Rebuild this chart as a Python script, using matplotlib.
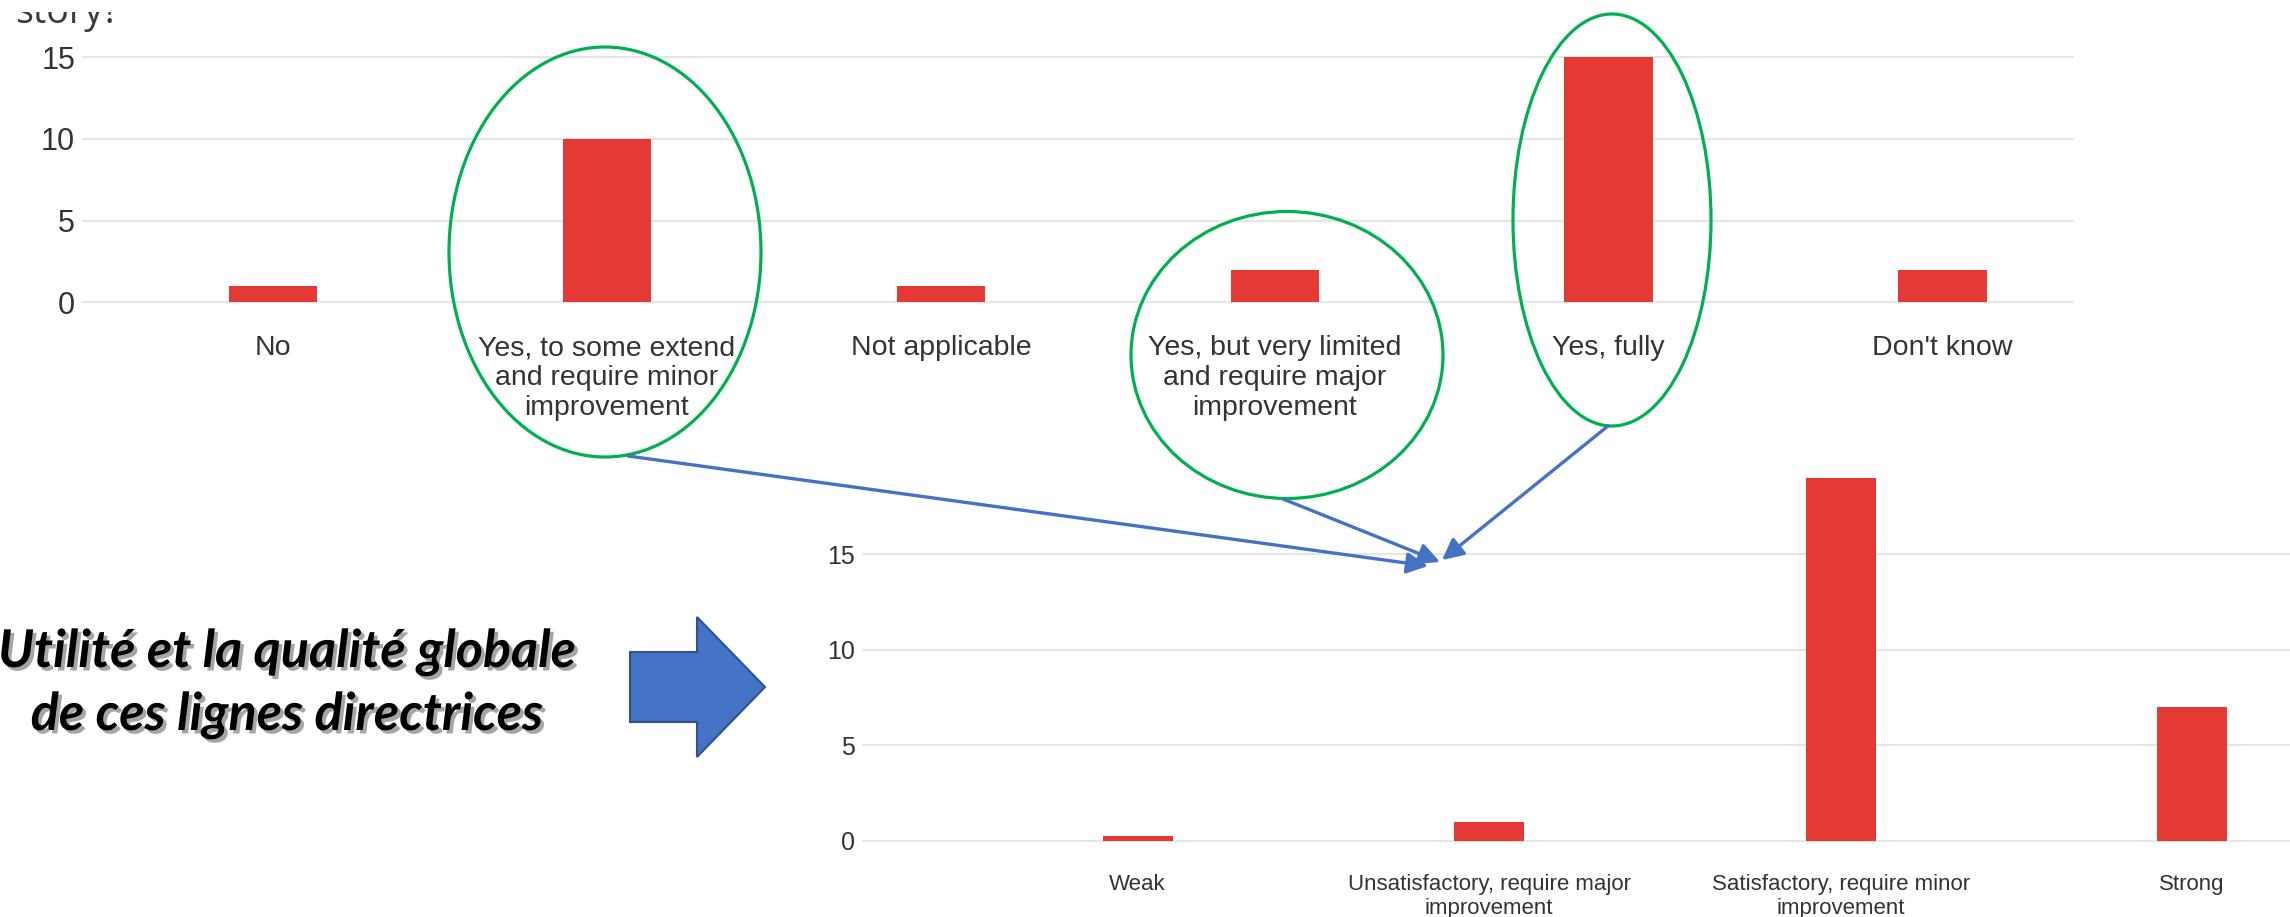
import matplotlib
matplotlib.use("Agg")
import matplotlib.pyplot as plt
import matplotlib.patheffects as pe
from matplotlib.patches import Ellipse, Polygon, Rectangle

# ------------------------------------------------------------
# data
top_labels = ["No",
              "Yes, to some extend\nand require minor\nimprovement",
              "Not applicable",
              "Yes, but very limited\nand require major\nimprovement",
              "Yes, fully",
              "Don't know"]
top_counts = [1, 10, 1, 2, 15, 2]

bottom_labels = ["Weak",
                 "Unsatisfactory, require major\nimprovement",
                 "Satisfactory, require minor\nimprovement",
                 "Strong"]
bottom_counts = [0.25, 1, 19, 7]

y_ticks = [0, 5, 10, 15]

side_text = ["Utilité et la qualité globale", "de ces lignes directrices"]

# ------------------------------------------------------------
W, H = 2290, 917
BAR = "#e53935"
GRID = "#e6e6e6"
TXT = "#333333"
GREEN = "#00b050"
BLUE = "#4472c4"

plt.rcParams["font.family"] = ["Liberation Sans", "DejaVu Sans"]

fig = plt.figure(figsize=(W / 100, H / 100), dpi=100)
fig.patch.set_facecolor("white")


def bar_panel(x0, x1, zero, unit, c0, step, ylim, labels, counts, width, fs, yfs, pad):
    """axes placed in pixel coords, bars drawn at category index"""
    y_top = zero - ylim[1] * unit
    y_bot = zero - ylim[0] * unit
    ax = fig.add_axes([x0 / W, 1 - y_bot / H, (x1 - x0) / W, (y_bot - y_top) / H])
    ax.set_facecolor("none")
    xs = range(len(counts))
    ax.bar(xs, counts, width=width, color=BAR, zorder=3)
    ax.set_xlim((x0 - c0) / step, (x1 - c0) / step)
    ax.set_ylim(*ylim)
    ax.set_yticks(y_ticks)
    ax.set_xticks(list(xs))
    ax.set_xticklabels(labels)
    ax.grid(axis="y", color=GRID, lw=1.5, zorder=0)
    for s in ax.spines.values():
        s.set_visible(False)
    ax.tick_params(axis="x", length=0, pad=pad, labelsize=fs, labelcolor=TXT)
    ax.tick_params(axis="y", length=0, pad=5, labelsize=yfs, labelcolor=TXT)
    return ax


ax_top = bar_panel(82, 2074, 302.3, 16.33, 273.1, 333.9, (-0.5, 16),
                   top_labels, top_counts, 0.265, 20.5, 22, 18)
ax_bot = bar_panel(862, 2290, 841.0, 19.11, 1137.7, 351.5, (-0.5, 19.5),
                   bottom_labels, bottom_counts, 0.2, 16, 18, 17)

# ------------------------------------------------------------
# slide annotations on top, in pixel coordinates
ov = fig.add_axes([0, 0, 1, 1], zorder=10)
ov.set_xlim(0, W)
ov.set_ylim(H, 0)
ov.axis("off")
ov.set_facecolor("none")

# question text cut off at the top of the screenshot
ov.text(15, 23, "story?", fontsize=27, family="Open Sans", color="#3a3a3a",
        va="baseline", ha="left")
ov.add_patch(Rectangle((0, 0), 180, 12, fc="white", ec="none", zorder=5))

for cx, cy, ew, eh in [(605, 252, 312, 410), (1287, 355, 312, 287), (1612, 220, 198, 412)]:
    ov.add_patch(Ellipse((cx, cy), ew, eh, fill=False, ec=GREEN, lw=2.3))

for start, end in [((628, 456), (1428, 566)),
                   ((1283, 499), (1440, 562)),
                   ((1608, 426), (1442, 560))]:
    ov.annotate("", xy=end, xytext=start,
                arrowprops=dict(arrowstyle="-|>", color=BLUE, lw=2.4,
                                mutation_scale=32, shrinkA=0, shrinkB=0))

ov.add_patch(Polygon([(630, 652), (697, 652), (697, 617), (765, 687),
                      (697, 757), (697, 722), (630, 722)],
                     closed=True, fc=BLUE, ec="#2f528f", lw=1.5))

shadow = [pe.SimplePatchShadow(offset=(2.5, -2.5), shadow_rgbFace="#7f7f7f", alpha=0.7),
          pe.Normal()]
for line, base in zip(side_text, [667, 730]):
    ov.text(287, base, line, fontsize=37.5, family="Lato", fontweight="bold",
            fontstyle="italic", color="black", ha="center", va="baseline",
            path_effects=shadow)

fig.savefig("out.png", dpi=100, facecolor="white")
